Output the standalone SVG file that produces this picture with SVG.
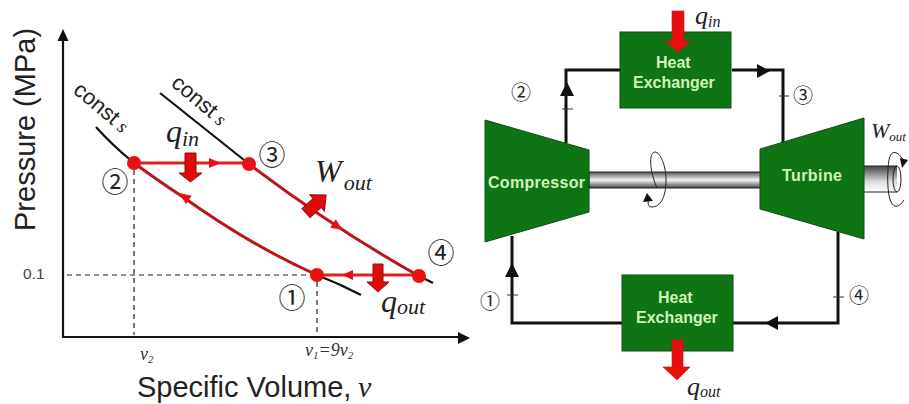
<svg xmlns="http://www.w3.org/2000/svg" width="909" height="404" viewBox="0 0 909 404">
<style>
.sans{font-family:"Liberation Sans",Arial,sans-serif}
.serif{font-family:"Liberation Serif","Times New Roman",serif;font-style:italic}
.num{font-family:"Noto Sans CJK JP","DejaVu Sans",sans-serif;fill:#222;text-anchor:middle}
.blk{fill:none;stroke:#111;stroke-width:2.2}
.wire{fill:none;stroke:#111;stroke-width:3}
.tick{fill:none;stroke:#333;stroke-width:1}
.dash{fill:none;stroke:#222;stroke-width:1.2;stroke-dasharray:5 4}
.cyc{fill:none;stroke:#b81818;stroke-width:3}
.cyh{fill:none;stroke:#e02018;stroke-width:3}
.pt{fill:#e81010}
.heat{fill:#e00c0c;stroke:#8a1010;stroke-width:1}
.heat2{fill:#ea0f0c;stroke:#c01010;stroke-width:.6}
.box{fill:#0f7414;stroke:#0b4f10;stroke-width:1}
.lbl{font-family:"Liberation Sans",Arial,sans-serif;font-weight:bold;font-size:16px;fill:#cff4b8}
.thin{fill:none;stroke:#222;stroke-width:1}
</style>
<defs>
<linearGradient id="shaft" x1="0" y1="0" x2="0" y2="1">
<stop offset="0" stop-color="#555"/><stop offset="0.5" stop-color="#f4f4f4"/><stop offset="1" stop-color="#444"/>
</linearGradient>
<linearGradient id="shaft2" x1="0" y1="0" x2="0" y2="1">
<stop offset="0" stop-color="#444"/><stop offset="0.6" stop-color="#ddd"/><stop offset="1" stop-color="#fff"/>
</linearGradient>
</defs>
<rect width="909" height="404" fill="#fff"/>

<g id="connectors">
<path class="blk" d="M63 36V337H465"/>
<path d="M63 29L57.500 41H68.500Z" fill="#111"/>
<path d="M470 338L458 332V344Z" fill="#111"/>
<path class="dash" d="M134 170V335M317 282V335M67 275H310"/>
<path class="blk" d="M96 127Q112 145 134 163"/>
<path class="blk" d="M160 93L249 164"/>
<path class="blk" d="M317 275Q340 284 361 295"/>
<path class="blk" d="M419 276L433 283"/>
<path class="cyh" d="M134 163H249"/>
<path class="cyc" d="M249 164Q335 229 419 276"/>
<path class="cyh" d="M419 275H317"/>
<path class="cyc" d="M317 275Q250 245 183 197Q160 182 134 163"/>
<path d="M221 163L209 158V168Z" fill="#e81010"/>
<path d="M0 0L-12 -5V5Z" fill="#e81010" transform="translate(343,230) rotate(33)"/>
<path d="M342 275L353 270V280Z" fill="#e81010"/>
<path d="M0 0L-12 -5V5Z" fill="#e81010" transform="translate(179,193) rotate(215)"/>

<path class="wire" d="M566 143V70H620"/>
<path class="wire" d="M732 70H783V143"/>
<path class="wire" d="M512 236V323H622"/>
<path class="wire" d="M733 323H838V232"/>
<path class="tick" d="M562 109H573M779 96H789M507 295H518M833 297H844"/>
<path d="M567 82L560 96H574Z" fill="#111"/>
<path d="M770 71L757 64V78Z" fill="#111"/>
<path d="M512 263L505 277H519Z" fill="#111"/>
<path d="M765 323L778 316V330Z" fill="#111"/>
</g>

<g id="plot-labels">
<text class="sans" font-size="29" fill="#222" transform="translate(35,231) rotate(-90)">Pressure (MPa)</text>
<text class="sans" font-size="29" fill="#222" x="137" y="397">Specific Volume,</text>
<text class="serif" font-size="30" fill="#222" x="358" y="397">v</text>
<text class="sans" font-size="15.500" fill="#444" x="23" y="279">0.1</text>
<text class="serif" font-size="18" fill="#333" x="140" y="360">v<tspan font-size="11" dy="3">2</tspan></text>
<text class="serif" font-size="18" fill="#333" x="305" y="356">v<tspan font-size="11" dy="3">1</tspan><tspan dy="-3">=9v</tspan><tspan font-size="11" dy="3">2</tspan></text>
<text class="sans" font-size="22" fill="#222" transform="translate(72,92) rotate(40)">const<tspan class="serif" font-size="19" dx="5">s</tspan></text>
<text class="sans" font-size="22" fill="#222" transform="translate(170,85) rotate(40)">const<tspan class="serif" font-size="19" dx="5">s</tspan></text>
<text class="serif" font-size="32" fill="#222" x="166" y="142">q<tspan font-size="22" dy="4">in</tspan></text>
<text class="serif" font-size="32" fill="#222" x="315" y="182">W<tspan font-size="22" dy="8" dx="2">out</tspan></text>
<text class="serif" font-size="32" fill="#222" x="381" y="312">q<tspan font-size="22" dy="2">out</tspan></text>
</g>

<g id="state-1"><circle class="pt" cx="317" cy="275" r="7"/><text class="num" font-size="27" x="292" y="308">①</text></g>
<g id="state-2"><circle class="pt" cx="134" cy="163" r="7"/><text class="num" font-size="27" x="115" y="192">②</text></g>
<g id="state-3"><circle class="pt" cx="249" cy="164" r="7"/><text class="num" font-size="27" x="272" y="165">③</text></g>
<g id="state-4"><circle class="pt" cx="419" cy="276" r="7"/><text class="num" font-size="27" x="441" y="263">④</text></g>

<g id="plot-heat-arrows">
<path class="heat" d="M185 153H196V173H202L190.500 182L179 173H185Z"/>
<path class="heat" d="M373 264H383V282H389L378 292L367 282H373Z"/>
<path class="heat" d="M0 -6H15V-11L27 0L15 11V6H0Z" transform="translate(306,213) rotate(-42)"/>
</g>

<g id="shaft">
<rect x="589" y="172" width="172" height="16" fill="url(#shaft)" stroke="#222" stroke-width="1"/>
<rect x="863" y="166" width="34" height="26" fill="url(#shaft2)"/>
<path class="thin" d="M863 166H897M863 192H897"/>
<ellipse class="thin" cx="897" cy="179" rx="4" ry="13"/>
<path class="thin" d="M657 188C650 172 648 153 655 152C660 152 666 165 666 180C666 198 660 207 652 207C646 207 649 200 648 197"/>
<path d="M647 193L643 202L653 201Z" fill="#111"/>
<path class="thin" d="M903 160C898 151 891 149 889 160C887 170 887 195 891 202C894 208 899 208 904 200"/>
<path d="M900 158L902 168L908 160Z" fill="#111"/>
</g>

<g id="compressor">
<path class="box" d="M485 120L589 150V212L485 242Z"/>
<text class="lbl" x="488" y="188" textLength="97" lengthAdjust="spacing">Compressor</text>
</g>
<g id="turbine">
<path class="box" d="M760 149L864 118V239L760 209Z"/>
<text class="lbl" x="782" y="181" textLength="60" lengthAdjust="spacing">Turbine</text>
</g>
<g id="heat-exchanger-top">
<rect class="box" x="620" y="32" width="111" height="76"/>
<text class="lbl"><tspan x="656" y="68">Heat</tspan><tspan x="633" y="88">Exchanger</tspan></text>
</g>
<g id="heat-exchanger-bottom">
<rect class="box" x="622" y="275" width="111" height="76"/>
<text class="lbl"><tspan x="658" y="303">Heat</tspan><tspan x="636" y="323">Exchanger</tspan></text>
</g>

<g id="cycle-heat-arrows">
<path class="heat2" d="M672 11H684V41H691L678 52L665 41H672Z"/>
<path class="heat2" d="M672 340H683V367H690L677 380L663 367H672Z"/>
</g>

<g id="cycle-labels">
<text class="num" font-size="20" x="521" y="100">②</text>
<text class="num" font-size="20" x="803" y="103">③</text>
<text class="num" font-size="20" x="490" y="309">①</text>
<text class="num" font-size="20" x="859" y="303">④</text>
<text class="serif" font-size="26" fill="#222" x="695" y="24">q<tspan font-size="16" dy="3">in</tspan></text>
<text class="serif" font-size="26" fill="#222" x="687" y="395">q<tspan font-size="16" dy="2">out</tspan></text>
<text class="serif" font-size="22" fill="#222" x="871" y="138">W<tspan font-size="13" dy="3">out</tspan></text>
</g>
</svg>
